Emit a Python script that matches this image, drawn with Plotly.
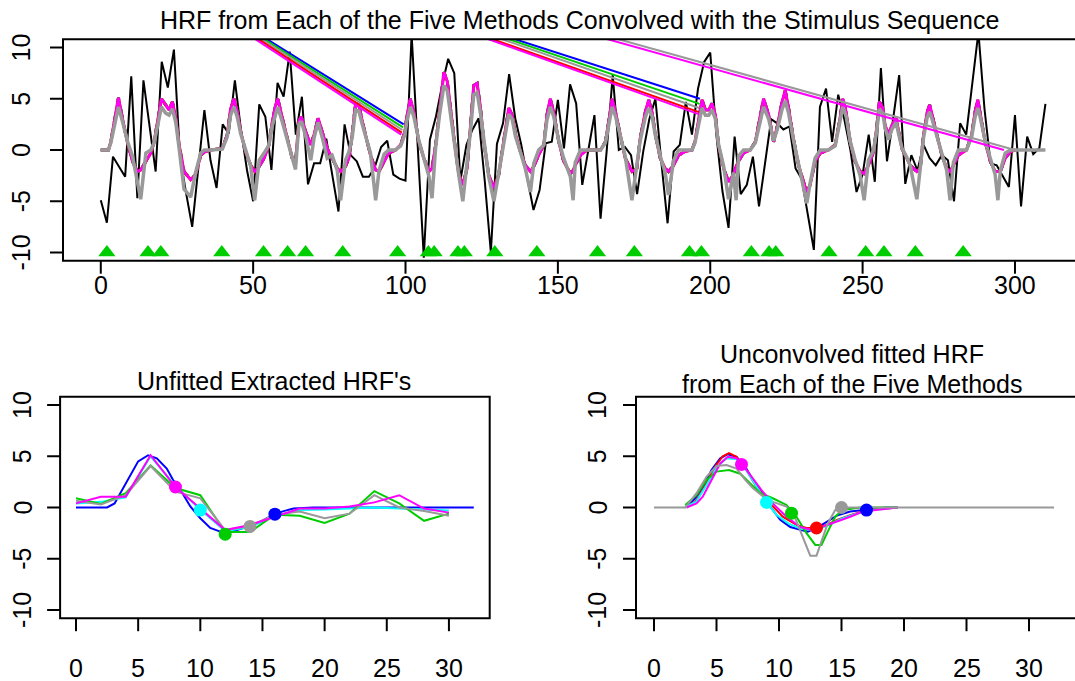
import plotly.graph_objects as go

W, H = 1075, 681
FONT = "Liberation Sans, Arial, sans-serif"

# ---------------- top panel data ----------------
obs_t = list(range(0, 311, 2))
obs_y = [-4.9, -7.1, -0.65, -1.6, -2.6, 7.2, -4.7, 6.8, 2.1, -2.1,
         8.6, 6.1, 9.8, -0.65, -4.2, -7.5, -1.8, 3.9, -1.0, -3.7,
         2.5, 1.6, 6.8, 2.0, -2.0, -5.0, 4.45, 3.25, -1.95, 6.55,
         5.2, 9.6, 1.5, 5.2, -3.35, -1.3, -1.3, 1.1, -2.5, -6.0,
         2.5, -0.5, -1.1, -2.6, -2.6, -1.6, 0.3, 0.9, -2.4, -2.8,
         -3.0, 11.3, 0.4, -10.5, 1.0, 3.3, 6.3, 8.9, 7.5, -3.0,
         0.5, 2.0, 3.1, -3.0, -10.0, 0.6, 2.6, 7.4, 3.1, 0.5,
         -2.8, -5.85, -3.9, 0.65, 0.8, 4.9, 0.15, 6.4, 4.55, -3.4,
         0.0, 3.4, -6.7, -0.15, 7.3, 0.0, 0.3, -0.5, -4.3, -0.15,
         3.0, 5.0, -1.3, -7.15, -0.15, 0.5, 4.7, 1.5, 6.0, 8.6,
         9.5, 1.5, -4.0, -7.6, 1.3, -4.3, -3.4, -0.65, -5.5, -1.0,
         3.0, 2.6, 2.0, 2.3, -1.8, -2.8, -6.2, -9.75, 4.2, 6.0,
         0.8, 5.4, 3.0, 0.0, -4.1, -2.4, 1.5, -3.1, 8.0, -1.1,
         3.0, 7.3, -3.3, -0.5, -2.0, 0.5, -0.8, -1.5, -0.5, -1.0,
         -5.0, 2.6, 1.5, 6.5, 11.5, 4.0, -1.3, -1.5, -2.5, -3.6,
         3.4, -5.5, 1.3, -0.4, 0.2, 4.5]

conv_t = [0, 2.5, 3.3, 4.4, 5.8, 7.1, 8.7, 10.4, 12, 13.1, 14.8, 16.4, 17.5, 18.9, 19.9,
          21.3, 22.4, 23.5, 24.6, 25.7, 27.3, 29.5, 31.1, 32.8, 34, 36, 39.9, 41.5, 42.6,
          43.7, 44.8, 45.9, 47.5, 49.2, 50.5, 52, 53.6, 55.2, 56.3, 57.4, 58.1, 59.6, 61.2,
          62.8, 63.9, 65, 65.8, 67.2, 68.9, 70, 71.3, 72.7, 74.3, 75.9, 77.6, 78.7, 80.3,
          81.4, 82.5, 83.6, 84.7, 85.8, 86.9, 88.5, 90.2, 91.3, 93, 94.5, 96.7, 98.4, 99.8,
          100.5, 101.6, 102.7, 104.4, 106, 107.7, 108.7, 109.9, 111.2, 112.6, 113.7, 114.8,
          116.2, 117.5, 118.8, 120.2, 121.3, 122.4, 123.5, 124.6, 125.7, 127.3, 129, 130.6,
          131.7, 132.8, 133.9, 135, 136.1, 137.7, 139.3, 141, 142.1, 143.7, 145.4, 146.4,
          147.5, 148.6, 150.3, 151.9, 154.1, 155, 155.7, 157.4, 159.6, 164, 165.6, 166.7,
          167.8, 168.9, 170.5, 172.1, 174.3, 175.9, 177, 178.7, 179.8, 180.9, 182, 183.6,
          185.2, 186.3, 188, 189.6, 191.8, 194, 195, 196.2, 197.3, 198.4, 199.5, 200.6,
          201.7, 202.7, 204.4, 206, 207.6, 208.5, 209.3, 210.9, 213.1, 214.8, 216.4, 217.5,
          219.2, 220.8, 222, 223.5, 224.6, 225.7, 227.3, 229, 230.6, 231.7, 232.8, 234.4,
          236.1, 238.8, 241, 242.6, 243.5, 244.6, 245.9, 247.5, 249.2, 250.5, 251.9, 253.6,
          254.6, 255.5, 256.6, 257.4, 258.5, 259.6, 261, 261.8, 262.9, 264.5, 265.6, 267.8,
          268.9, 270, 271.2, 272, 272.8, 274.3, 276, 277.6, 278.7, 279.8, 281.4, 284.1,
          285.8, 286.9, 287.8, 288.5, 290.2, 291.9, 293.5, 294.4, 295.2, 296.8, 298.5, 300.2]

conv_main = [0, 0, 0.8, 2.8, 5.1, 3.1, 0.8, -1.1, -2.1, -1.95, -1.1, -0.3, 0.8, 3.4, 5.0,
             4.4, 3.9, 4.7, 3.1, 0.5, -2.1, -2.9, -2.4, -0.5, -0.2, 0, 0.15, 1.5, 4.0,
             5.0, 3.7, 1.8, -0.15, -1.5, -2.1, -1.6, -0.8, 0.5, 2.8, 4.4, 5.0, 3.1, 1.1,
             -0.8, -1.3, 2.8, 3.25, 1.8, 0.5, 1.5, 3.1, 1.8, 0.15, -0.8, -1.8, -2.1, -1.6,
             -0.8, 1.5, 4.55, 4.4, 2.8, 1.5, -0.5, -1.95, -2.1, -1.1, -0.3, 0, 0.5, 1.8,
             3.4, 5.0, 3.7, 0.8, -0.8, -2.1, -1.8, 0.5, 4.1, 7.6, 6.7, 3.7,
             0.5, -2.4, -3.4, -1.8, 2.1, 6.3, 6.5, 4.1, 0.8, -2.4, -3.7, -2.4,
             -0.15, 2.1, 4.1, 3.4, 1.5, -0.15, -1.5, -2.1, -1.6, -0.5, 0.5, 3.4,
             5.0, 3.7, 0.8, -1.1, -2.3, -2.0, -1.5, -0.5, 0, 0, 0.8, 2.8,
             5.0, 3.7, 1.5, -0.8, -2.1, -1.8, 1.1, 3.7, 4.9, 3.7, 1.5, -0.8,
             -1.8, -2.1, -1.5, -0.5, -0.15, 0, 0.8, 3.1, 4.9, 3.9, 3.9, 4.55,
             3.4, 0.5, -1.8, -3.1, -2.4, -1.6, -1.1, -0.3, 0, 0.8, 3.1, 5.0,
             3.4, 0.8, 2.3, 4.6, 5.8, 4.1, 1.1, -1.5, -3.1, -4.1, -3.4, -1.1,
             -0.3, 0, 0.5, 3.1, 5.0, 3.7, 0.8, -1.1, -2.1, -2.3, -1.5, -0.15,
             2.1, 4.7, 4.1, 2.4, 1.5, 2.4, 3.1, 1.8, 0.15, -0.8, -1.5, -2.1,
             -1.8, 1.5, 3.7, 4.4, 3.4, 1.5, -0.5, -1.8, -2.1, -1.5, -0.5, 0,
             1.5, 3.7, 4.9, 3.7, 0.8, -1.1, -2.1, -2.1, -2.1, -0.8, -0.15, 0]

conv_gray = [0, 0, 0.7, 2.4, 4.2, 2.8, 0.9, -0.6, -3.0, -4.8, -0.3, 0, 0.7, 3.0, 4.2,
             3.6, 3.4, 4.0, 2.7, 0.2, -3.8, -4.6, -2.2, -0.3, 0, 0, 0.1, 1.3, 3.4,
             4.2, 3.2, 1.6, 0, -1.6, -4.9, -1.0, -0.3, 0.5, 2.4, 3.7, 4.2, 2.7, 1.0,
             -0.6, -1.9, 2.5, 2.8, 1.4, -1.0, 1.2, 2.7, 1.2, -0.8, -0.5, -2.0, -4.9, -1.0,
             -0.2, 1.2, 3.9, 3.8, 2.5, 1.3, -0.3, -4.9, -2.0, -0.4, 0, 0, 0.4, 1.5,
             2.9, 4.2, 3.3, 0.9, -0.9, -2.6, -4.7, 0.3, 3.5, 6.3, 5.8, 3.3,
             0.5, -2.5, -5.0, -1.5, 1.8, 5.4, 5.6, 3.6, 0.8, -2.6, -5.0, -2.2,
             0, 1.8, 3.5, 3.0, 1.3, -0.2, -1.8, -4.1, -1.3, 0, 0.5, 2.9,
             4.2, 3.3, 0.9, -0.8, -2.6, -4.9, -1.2, 0, 0, 0, 0.7, 2.4,
             4.2, 3.3, 1.4, -0.6, -4.9, -1.5, 0.9, 3.2, 4.1, 3.3, 1.4, -0.6,
             -2.2, -4.4, -1.0, 0, 0, 0, 0.7, 2.7, 4.1, 3.4, 3.4, 3.9,
             3.0, 0.6, -1.6, -4.8, -2.2, -4.9, -0.6, 0, 0, 0.7, 2.7, 4.2,
             3.0, 0.9, 2.0, 3.9, 4.8, 3.6, 1.0, -1.5, -3.5, -5.2, -3.2, -0.8,
             0, 0, 0.4, 2.7, 4.2, 3.3, 0.9, -0.9, -2.5, -4.9, -1.0, 0,
             1.8, 4.0, 3.6, 2.1, 1.0, 2.0, 2.7, 1.6, 0.2, -0.7, -1.5, -4.8,
             -1.4, 1.2, 3.2, 3.7, 3.0, 1.4, -0.4, -2.0, -4.9, -1.2, 0, 0,
             1.3, 3.2, 4.1, 3.3, 0.9, -0.9, -2.4, -4.9, -2.0, -0.3, 0, 0]
gray_tail_t = [310]
gray_tail_y = [0]

onsets = [2, 15.5, 19.7, 39.7, 53.4, 61.3, 67.2, 79.4, 97.4, 107.5, 109.4, 117.2, 119.3,
          129.3, 143.1, 163.0, 175.1, 193.2, 197.1, 213.5, 219.3, 221.5, 239.0, 251.0,
          257.0, 267.3, 283.0]

# stray straight segments drawn in the top panel
seg_colors = ["blue", "#00CD00", "#999999", "red", "magenta",
              "blue", "#00CD00", "#999999", "red", "magenta",
              "magenta", "#999999"]
seg_x0 = [50.8, 50.0, 49.2, 48.2, 47.2, 128.7, 127.0, 125.0, 122.0, 120.7, 158.0, 161.5]
seg_y0 = [11.5, 11.5, 11.5, 11.5, 11.5, 11.5, 11.5, 11.5, 11.5, 11.5, 11.5, 11.5]
seg_x1 = [99.4, 99.2, 99.0, 98.8, 98.6, 196.6, 196.5, 196.4, 196.3, 196.2, 296.4, 300.0]
seg_y1 = [2.5, 2.2, 1.95, 1.7, 1.5, 5.0, 4.5, 4.1, 3.7, 3.5, 0.0, 0.0]

# ---------------- bottom-left data ----------------
ex_t = list(range(0, 31, 2))
ex_magenta = [0.4, 1.05, 1.05, 5.1, 2.0, -0.1, -2.2, -1.7, -0.9, -0.1, -0.1, 0.1, 0.5, 1.2, -0.1, -0.5]
ex_green = [0.9, 0.35, 1.4, 4.1, 1.9, 1.2, -2.4, -2.4, -0.7, -0.8, -1.5, -0.6, 1.6, 0.4, -1.3, -0.6]
ex_gray = [0.65, 0.3, 1.2, 4.05, 1.55, 0.9, -2.2, -1.8, -0.7, -0.4, -1.05, -0.6, 1.2, 0.0, -0.35, -0.8]
ex_cyan = [0.4, 0.55, 1.0, 5.0, 2.1, -0.2, -2.3, -1.9, -0.85, -0.25, -0.2, -0.1, 0.0, -0.1, -0.2, -0.3]
ex_blue_t = [0, 2.5, 3.1, 3.7, 4.3, 5.0, 5.8, 6.5, 7.3, 7.8, 8.4, 9.2, 10.0, 10.8, 11.6, 12.7,
             13.7, 14.8, 15.9, 16.7, 17.5, 19.1, 32]
ex_blue = [0, 0, 0.4, 1.7, 3.0, 4.5, 5.1, 4.8, 3.8, 2.7, 1.7, 0.1, -1.05, -2.0, -2.35, -2.3,
           -1.9, -1.4, -0.7, -0.35, -0.1, 0, 0]
ex_dot_t = [8, 10, 12, 14, 16]
ex_dot_y = [2.0, -0.25, -2.6, -1.85, -0.65]
ex_dot_col = ["magenta", "cyan", "#00CD00", "#999999", "blue"]

# ---------------- bottom-right data ----------------
fit_gray_t = [0, 2.5, 3.4, 4.2, 5.0, 5.8, 6.6, 7.3, 7.9, 8.6, 9.5, 10.6, 11.3, 11.9, 12.5, 13.0,
              13.4, 13.9, 14.5, 14.9, 32]
fit_gray = [0, 0, 1.4, 3.0, 4.05, 4.15, 3.8, 2.7, 1.9, 1.2, 0.55, 0.1, -1.05, -2.85, -4.7, -4.7,
            -3.3, -1.55, -0.25, 0, 0]
fit_green_t = [2.5, 3.4, 4.2, 5.0, 6.0, 6.9, 7.7, 8.5, 9.5, 10.6, 11.4, 12.2, 12.9, 13.4, 13.9,
               14.5, 15.1, 15.8, 16.5, 19.5]
fit_green = [0.25, 1.2, 2.7, 3.5, 3.65, 3.3, 2.35, 1.4, 0.9, 0.25, -0.9, -2.5, -3.65, -3.65,
             -2.35, -0.9, -0.25, -0.1, 0, 0]
fit_blue_t = [2.5, 3.3, 3.9, 4.6, 5.3, 5.9, 6.6, 7.3, 7.9, 8.5, 9.3, 10.1, 10.9, 11.7, 12.3,
              13.0, 13.8, 14.7, 15.7, 16.9, 17.8, 18.6, 19.5]
fit_blue = [0, 0.9, 2.0, 3.65, 4.8, 5.2, 4.95, 4.0, 2.7, 1.7, 0.1, -1.2, -1.9, -2.2, -2.35,
            -2.0, -1.4, -0.75, -0.4, -0.25, -0.1, 0, 0]
fit_red_t = [2.6, 3.4, 4.2, 4.9, 5.5, 6.0, 6.6, 7.4, 8.2, 9.3, 10.3, 11.4, 12.2, 13.0, 13.8,
             14.7, 15.7, 16.6, 17.5, 18.3, 19.5]
fit_red = [0, 0.7, 2.35, 4.0, 5.0, 5.3, 4.95, 3.65, 2.0, 0.4, -0.9, -1.7, -2.0, -2.0, -1.7,
           -1.2, -0.75, -0.4, -0.2, -0.1, 0]
fit_magenta_t = [2.6, 3.4, 3.9, 4.6, 5.3, 5.9, 6.6, 7.1, 7.8, 8.6, 9.5, 10.6, 11.7, 12.6, 13.5,
                 14.6, 15.7, 16.7, 17.8, 18.9, 19.5]
fit_magenta = [0, 0.4, 1.05, 2.7, 4.3, 4.95, 4.8, 4.15, 3.0, 1.7, 0.4, -0.9, -1.9, -2.2, -1.85,
               -1.4, -0.9, -0.4, -0.25, -0.1, 0]
fit_cyan_t = [2.5, 3.4, 4.2, 5.0, 5.8, 6.6, 7.4, 8.2, 9.0, 9.8, 10.8, 11.8, 12.8, 13.8, 15.0,
              16.2, 17.5, 19.0, 19.5]
fit_cyan = [0, 0.6, 2.2, 3.9, 4.8, 4.7, 3.6, 2.0, 0.5, -0.7, -1.6, -2.1, -2.2, -1.8, -1.1,
            -0.6, -0.25, -0.05, 0]
fit_dot_t = [7, 9, 11, 13, 15, 17]
fit_dot_y = [4.2, 0.5, -0.55, -2.0, 0.0, -0.25]
fit_dot_col = ["magenta", "cyan", "#00CD00", "red", "#999999", "blue"]

y_ticks = [-10, -5, 0, 5, 10]
y_labels = ["-10", "-5", "0", "5", "10"]
top_xticks = [0, 50, 100, 150, 200, 250, 300]
bot_xticks = [0, 5, 10, 15, 20, 25, 30]

GREEN = "#00CD00"
GRAY = "#999999"

fig = go.Figure()


def line(x, y, color, width, xa, ya, dash="solid"):
    fig.add_trace(go.Scatter(x=x, y=y, mode="lines", xaxis=xa, yaxis=ya,
                             line=dict(color=color, width=width, dash=dash),
                             showlegend=False, hoverinfo="skip"))


# top panel
line(obs_t, obs_y, "black", 2, "x", "y")
line(conv_t, conv_main, "blue", 3, "x", "y", dash="dash")
line(conv_t, conv_main, "cyan", 2.5, "x", "y")
line(conv_t, conv_main, GREEN, 3, "x", "y", dash="dash")
line(conv_t, conv_main, "red", 3, "x", "y")
line(conv_t, conv_main, "magenta", 2.5, "x", "y")
line(conv_t + gray_tail_t, conv_gray + gray_tail_y, GRAY, 3.5, "x", "y")
for c, a, b, cc, d in zip(seg_colors, seg_x0, seg_y0, seg_x1, seg_y1):
    line([a, cc], [b, d], c, 2, "x", "y")
fig.add_trace(go.Scatter(x=onsets, y=[-10] * len(onsets), mode="markers", xaxis="x", yaxis="y",
                         marker=dict(symbol="triangle-up", size=15, color=GREEN),
                         showlegend=False, hoverinfo="skip"))

# bottom-left
line(ex_blue_t, ex_blue, "blue", 2, "x2", "y2")
line(ex_t, ex_cyan, "cyan", 2, "x2", "y2")
line(ex_t, ex_green, GREEN, 2, "x2", "y2")
line(ex_t, ex_gray, GRAY, 2, "x2", "y2")
line(ex_t, ex_magenta, "magenta", 2, "x2", "y2")
fig.add_trace(go.Scatter(x=ex_dot_t, y=ex_dot_y, mode="markers", xaxis="x2", yaxis="y2",
                         marker=dict(size=13, color=ex_dot_col), showlegend=False, hoverinfo="skip"))

# bottom-right
line(fit_blue_t, fit_blue, "blue", 2, "x3", "y3")
line(fit_red_t, fit_red, "red", 2, "x3", "y3")
line(fit_cyan_t, fit_cyan, "cyan", 2, "x3", "y3")
line(fit_green_t, fit_green, GREEN, 2, "x3", "y3")
line(fit_magenta_t, fit_magenta, "magenta", 2, "x3", "y3")
line(fit_gray_t, fit_gray, GRAY, 2, "x3", "y3")
fig.add_trace(go.Scatter(x=fit_dot_t, y=fit_dot_y, mode="markers", xaxis="x3", yaxis="y3",
                         marker=dict(size=13, color=fit_dot_col), showlegend=False, hoverinfo="skip"))

# panel geometry (pixels) and axis ranges
top_y0, top_y1 = 39.3, 260.7
bot_y0, bot_y1 = 396.8, 618.2
TICK = 13
YR = [-10.8, 10.8]
panels = [  # xaxis, yaxis, left px, right px of domain, frame right px, top px, bottom px, x range, x ticks
    ("x", "y", 63.0, W, W + 40, top_y0, top_y1, [-12.4, 319.7], top_xticks),
    ("x2", "y2", 60.1, 489.7, 489.7, bot_y0, bot_y1, [-1.28, 33.28], bot_xticks),
    ("x3", "y3", 636.0, W, W + 40, bot_y0, bot_y1, [-1.44, 33.68], bot_xticks),
]


def px(v):
    return v / W


def py(v):
    return 1 - v / H


axis_common = dict(showgrid=False, zeroline=False, showline=False, ticks="",
                   automargin=False, showticklabels=False, fixedrange=True)

layout_axes = {}
for xa, ya, left, right, fright, top, bottom, xr, xt in panels:
    layout_axes["xaxis" + xa[1:]] = dict(domain=[px(left), px(right)], range=xr, anchor=ya, **axis_common)
    layout_axes["yaxis" + ya[1:]] = dict(domain=[py(bottom), py(top)], range=YR, anchor=xa, **axis_common)

fig.update_layout(width=W, height=H, margin=dict(l=0, r=0, t=0, b=0, autoexpand=False),
                  paper_bgcolor="white", plot_bgcolor="white", **layout_axes)

tick_line = dict(color="black", width=2)
for xa, ya, left, right, fright, top, bottom, xr, xt in panels:
    # frame
    fig.add_shape(type="rect", xref="paper", yref="paper", x0=px(left), x1=px(fright),
                  y0=py(bottom), y1=py(top), line=tick_line, fillcolor="rgba(0,0,0,0)", layer="above")
    # outward x ticks, placed with the same linear mapping as the axis domain/range
    for v in xt:
        xpix = left + (v - xr[0]) / (xr[1] - xr[0]) * (right - left)
        fig.add_shape(type="line", xref="paper", yref="paper", x0=px(xpix), x1=px(xpix),
                      y0=py(bottom), y1=py(bottom + TICK), line=tick_line, layer="above")
    # outward y ticks
    for v in y_ticks:
        ypix = top + (YR[1] - v) / (YR[1] - YR[0]) * (bottom - top)
        fig.add_shape(type="line", xref="paper", yref="paper", x0=px(left), x1=px(left - TICK),
                      y0=py(ypix), y1=py(ypix), line=tick_line, layer="above")

tick_font = dict(family=FONT, size=25, color="black")

# x tick labels
for xa, ticks, cy in [("x", top_xticks, 285), ("x2", bot_xticks, 668), ("x3", bot_xticks, 668)]:
    for v in ticks:
        fig.add_annotation(text=str(v), x=v, y=py(cy), xref=xa, yref="paper", showarrow=False,
                           xanchor="center", yanchor="middle", borderpad=0, font=tick_font)

# y tick labels (rotated)
for ya, cx in [("y", 21), ("y2", 22), ("y3", 597)]:
    for v, t in zip(y_ticks, y_labels):
        fig.add_annotation(text=t, x=px(cx), y=v, xref="paper", yref=ya, showarrow=False,
                           xanchor="center", yanchor="middle", textangle=-90, borderpad=0,
                           font=tick_font)

titles = [("HRF from Each of the Five Methods Convolved with the Stimulus Sequence", 579, 20, "middle"),
          ("Unfitted Extracted HRF's", 274, 381, "middle"),
          ("Unconvolved fitted HRF", 852, 369, "bottom"),
          ("from Each of the Five Methods", 852, 369, "top")]
for txt, cx, cy, ya in titles:
    fig.add_annotation(text=txt, x=px(cx), y=py(cy), xref="paper", yref="paper",
                       showarrow=False, xanchor="center", yanchor=ya, borderpad=0,
                       font=dict(family=FONT, size=25, color="black"))

fig.write_html("out.html")
